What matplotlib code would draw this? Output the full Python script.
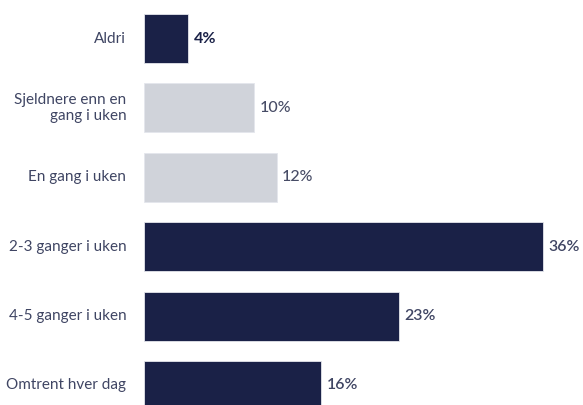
import matplotlib
matplotlib.use("Agg")
import matplotlib.pyplot as plt

categories = ["Aldri", "Sjeldnere enn en\ngang i uken", "En gang i uken",
              "2-3 ganger i uken", "4-5 ganger i uken", "Omtrent hver dag"]
values = [4, 10, 12, 36, 23, 16]
value_labels = ["4%", "10%", "12%", "36%", "23%", "16%"]
highlight = [True, False, False, True, True, True]

NAVY = "#1a2147"
GRAY = "#d0d3da"
TEXT = "#3f4563"

plt.rcParams['font.family'] = ['Lato', 'DejaVu Sans']

fig = plt.figure(figsize=(5.83, 4.05), dpi=100)
ax = fig.add_axes([143.5/583, 0, 440/583, 1])

ypos = list(range(len(categories)))
colors = [NAVY if h else GRAY for h in highlight]
ax.barh(ypos, values, height=0.706, color=colors, edgecolor="#e4e6ec", linewidth=0.6)

ax.set_xlim(0, 39.65)
ax.set_ylim(5.281, -0.555)

for y, v, lab, h in zip(ypos, values, value_labels, highlight):
    if lab == "4%":
        col, wt = NAVY, "bold"
    elif h:
        col, wt = TEXT, "semibold"
    else:
        col, wt = "#474c66", "medium"
    ax.text(v + 0.5, y, lab, va="center", ha="left", fontsize=11.5,
            color=col, fontweight=wt)

for y, c in zip(ypos, categories):
    ax.text(-1.55, y, c, va="center", ha="right", fontsize=11, color=TEXT,
            linespacing=1.2)

ax.axis("off")
fig.savefig("out.png", dpi=100)
